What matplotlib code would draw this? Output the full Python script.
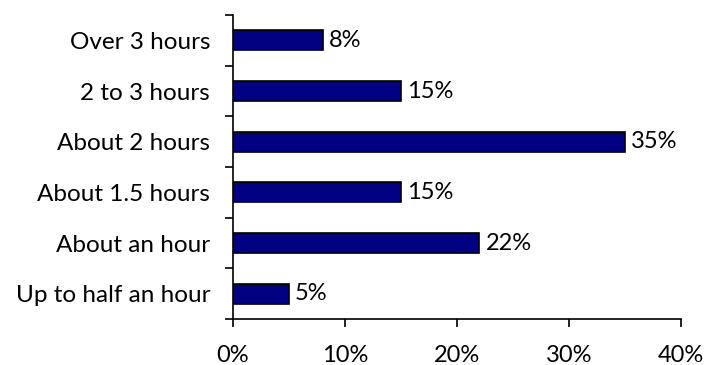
import matplotlib.pyplot as plt
from matplotlib.ticker import FuncFormatter, MultipleLocator

categories = ["Up to half an hour", "About an hour", "About 1.5 hours",
              "About 2 hours", "2 to 3 hours", "Over 3 hours"]
values = [5, 22, 15, 35, 15, 8]

plt.rcParams['font.family'] = ['Lato', 'DejaVu Sans']

fig = plt.figure(figsize=(7.07, 3.65), dpi=100)
ax = fig.add_axes([233 / 707, 46 / 365, 448 / 707, 304 / 365])

pos = list(range(len(categories)))
bars = ax.barh(pos, values, height=0.4, color='#000080',
               edgecolor='black', linewidth=1.2)

for b, v in zip(bars, values):
    ax.text(v + 0.55, b.get_y() + b.get_height() / 2, f"{v}%",
            va='center', ha='left', fontsize=17)

ax.set_xlim(0, 40)
ax.set_ylim(-0.5, len(categories) - 0.5)
ax.xaxis.set_major_locator(MultipleLocator(10))
ax.xaxis.set_major_formatter(FuncFormatter(lambda x, _: f"{x:.0f}%"))

# category labels sit between the tick marks
ax.set_yticks([p - 0.5 for p in pos] + [len(categories) - 0.5])
ax.set_yticklabels([])
ax.set_yticks(pos, minor=True)
ax.set_yticklabels(categories, minor=True)
ax.tick_params(axis='y', which='minor', length=0, pad=16.5, labelsize=17.5)
ax.tick_params(axis='y', which='major', length=6, width=1.2)
ax.tick_params(axis='x', length=6, width=1.2, labelsize=17, pad=13)

for side in ['top', 'right']:
    ax.spines[side].set_visible(False)
for side in ['left', 'bottom']:
    ax.spines[side].set_linewidth(1.2)

fig.savefig("out.png", dpi=100)
